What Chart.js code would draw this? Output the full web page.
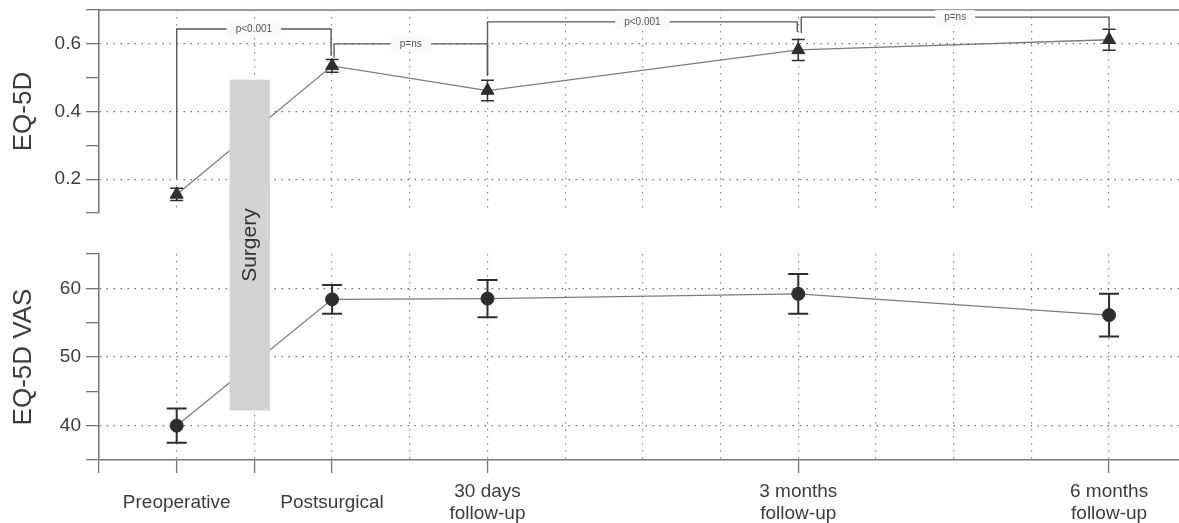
<!DOCTYPE html>
<html>
<head>
<meta charset="utf-8">
<script src="https://cdn.jsdelivr.net/npm/chart.js@4.4.1/dist/chart.umd.min.js"></script>
<style>
  html, body { margin: 0; padding: 0; background: #fff; }
  #wrap { position: relative; width: 1179px; height: 523px; overflow: hidden; }
  #top { position: absolute; left: 0; top: 0; }
  #bot { position: absolute; left: 0; top: 190px; }
</style>
</head>
<body>
<div id="wrap">
  <canvas id="top" width="1179" height="240"></canvas>
  <canvas id="bot" width="1179" height="333"></canvas>
</div>
<script>
// time points (x position on the follow-up axis) and their labels
const timePos = [0, 1, 2, 4, 6];
const timeLabels = ["Preoperative", "Postsurgical", ["30 days", "follow-up"], ["3 months", "follow-up"], ["6 months", "follow-up"]];
const gridX = [-0.5, 0, 0.5, 1, 1.5, 2, 2.5, 3, 3.5, 4, 4.5, 5, 5.5, 6];
const tickedX = [-0.5, 0, 0.5, 1, 2, 4, 6];

// EQ-5D index (mean +/- error)
const eq5dMean = [0.155, 0.535, 0.462, 0.582, 0.612];
const eq5dErr = [0.018, 0.019, 0.030, 0.031, 0.031];
const eq5dTicks = [0.2, 0.4, 0.6];
const eq5dMinor = [0.1, 0.3, 0.5, 0.7];

// EQ-5D VAS (mean +/- error)
const vasMean = [40.0, 58.4, 58.5, 59.2, 56.1];
const vasErr = [2.5, 2.1, 2.7, 2.9, 3.1];
const vasTicks = [40, 50, 60];
const vasMinor = [35, 45, 55, 65];

// p-value comparisons between time points
const pFrom = [0, 1, 2, 4];
const pTo = [1, 2, 4, 6];
const pLabels = ["p<0.001", "p=ns", "p<0.001", "p=ns"];

const FONT = '"Liberation Sans", Arial, Helvetica, sans-serif';
const TXT = '#3c3c3c';
const DOTS = [1.5, 5.5];

// bracket shapes (in EQ-5D units): top level and where each leg stops
const bracketShape = [
  { level: 0.644, left: 0.203, right: 0.565, dxL: 0, dxR: -1 },
  { level: 0.600, left: 0.559, right: 0.506, dxL: 2, dxR: 0 },
  { level: 0.665, left: 0.506, right: 0.635, dxL: 0, dxR: -1 },
  { level: 0.679, left: 0.632, right: 0.647, dxL: 3, dxR: 0 }
];

const near = (v, arr) => arr.some(a => Math.abs(a - v) < 1e-6);

const errorBars = {
  id: 'errbars',
  afterDatasetsDraw(chart, args, opts) {
    const { ctx, scales: { x, y } } = chart;
    const ds = chart.data.datasets[0];
    ctx.save();
    ctx.strokeStyle = opts.color;
    ctx.lineWidth = opts.width;
    ds.data.forEach((p, i) => {
      const px = x.getPixelForValue(p.x);
      const hi = y.getPixelForValue(p.y + ds.errors[i]);
      const lo = y.getPixelForValue(p.y - ds.errors[i]);
      ctx.beginPath();
      ctx.moveTo(px, hi); ctx.lineTo(px, lo);
      ctx.moveTo(px - opts.cap, hi); ctx.lineTo(px + opts.cap, hi);
      ctx.moveTo(px - opts.cap, lo); ctx.lineTo(px + opts.cap, lo);
      ctx.stroke();
    });
    ctx.restore();
  }
};

const surgery = {
  id: 'surgery',
  afterDatasetsDraw(chart, args, opts) {
    const { ctx, scales: { x, y } } = chart;
    const x0 = x.getPixelForValue(opts.x0);
    const x1 = x.getPixelForValue(opts.x1);
    const y0 = opts.yTop == null ? 0 : y.getPixelForValue(opts.yTop);
    const y1 = opts.yBottom == null ? chart.height : y.getPixelForValue(opts.yBottom);
    ctx.save();
    ctx.fillStyle = '#d2d3d5';
    ctx.fillRect(x0, y0, x1 - x0, y1 - y0);
    if (opts.label) {
      ctx.translate((x0 + x1) / 2, y.getPixelForValue(opts.labelAt));
      ctx.rotate(-Math.PI / 2);
      ctx.fillStyle = '#333';
      ctx.font = '21px ' + FONT;
      ctx.textAlign = 'center';
      ctx.textBaseline = 'middle';
      ctx.fillText(opts.label, 0, 0);
    }
    ctx.restore();
  }
};

const brackets = {
  id: 'brackets',
  afterDatasetsDraw(chart) {
    const { ctx, scales: { x, y } } = chart;
    ctx.save();
    ctx.font = '10px ' + FONT;
    ctx.textAlign = 'center';
    ctx.textBaseline = 'middle';
    bracketShape.forEach((b, i) => {
      const x1 = x.getPixelForValue(pFrom[i]) + b.dxL;
      const x2 = x.getPixelForValue(pTo[i]) + b.dxR;
      const yl = y.getPixelForValue(b.level);
      ctx.strokeStyle = '#5a5a5a';
      ctx.lineWidth = 1.4;
      ctx.beginPath();
      ctx.moveTo(x1, y.getPixelForValue(b.left));
      ctx.lineTo(x1, yl);
      ctx.lineTo(x2, yl);
      ctx.lineTo(x2, y.getPixelForValue(b.right));
      ctx.stroke();
      const cx = (x1 + x2) / 2;
      const w = ctx.measureText(pLabels[i]).width + 18;
      ctx.fillStyle = '#fafafa';
      ctx.fillRect(cx - w / 2, yl - 7, w, 15);
      ctx.fillStyle = '#555';
      ctx.fillText(pLabels[i], cx, yl);
    });
    ctx.restore();
  }
};

function xGridAxis(extra) {
  return Object.assign({
    type: 'linear',
    min: -0.5,
    max: 6.45,
    afterBuildTicks: s => { s.ticks = gridX.map(v => ({ value: v })); }
  }, extra);
}

function yAxis(min, max, major, minor, fmt, title) {
  return {
    min: min,
    max: max,
    afterBuildTicks: s => { s.ticks = major.concat(minor).sort((a, b) => a - b).map(v => ({ value: v })); },
    afterFit: s => { s.width = 99; s.paddingTop = 0; s.paddingBottom = 0; },
    title: { display: true, text: title, color: TXT, font: { family: FONT, size: 26 }, padding: { top: 8, bottom: 0 } },
    ticks: {
      color: TXT,
      font: { family: FONT, size: 19 },
      padding: 5,
      callback: v => (near(v, major) ? fmt(v) : '')
    },
    grid: {
      color: c => (c.tick && near(c.tick.value, major) ? '#6e6e6e' : 'rgba(0,0,0,0)'),
      lineWidth: 1.3,
      tickColor: '#777',
      tickLength: 13,
      tickWidth: 1.3
    },
    border: { display: true, color: '#777', width: 1.5, dash: DOTS }
  };
}

// top panel: EQ-5D
new Chart(document.getElementById('top'), {
  type: 'line',
  data: {
    datasets: [{
      data: timePos.map((t, i) => ({ x: t, y: eq5dMean[i] })),
      errors: eq5dErr,
      borderColor: '#7c7c7c',
      borderWidth: 1.3,
      pointStyle: 'triangle',
      pointRadius: 7.5,
      pointBackgroundColor: '#2e2e2e',
      pointBorderColor: '#2e2e2e',
      pointBorderWidth: 1
    }]
  },
  options: {
    responsive: false,
    animation: false,
    layout: { autoPadding: false, padding: { left: 0, right: 0, top: 0, bottom: 27 } },
    plugins: {
      legend: { display: false },
      tooltip: { enabled: false },
      errbars: { color: '#2e2e2e', width: 1.5, cap: 6.5 },
      surgery: { x0: 0.34, x1: 0.6, yTop: 0.494, yBottom: null, label: '' }
    },
    scales: {
      x: xGridAxis({
        afterFit: s => { s.height = 0; s.paddingLeft = 0; s.paddingRight = 0; },
        ticks: { display: false },
        grid: {
          color: c => (c.tick && c.tick.value > -0.4 ? '#8a8a8a' : 'rgba(0,0,0,0)'),
          lineWidth: 1.2,
          drawTicks: false
        },
        border: { display: false, dash: DOTS }
      }),
      xTop: {
        type: 'linear',
        position: 'top',
        min: -0.5,
        max: 6.45,
        afterFit: s => { s.height = 10; s.paddingLeft = 0; s.paddingRight = 0; },
        ticks: { display: false },
        grid: { display: false, drawTicks: false },
        border: { display: true, color: '#9a9a9a', width: 2 }
      },
      y: yAxis(0.1, 0.7, eq5dTicks, eq5dMinor, v => v.toFixed(1), 'EQ-5D')
    }
  },
  plugins: [errorBars, surgery, brackets]
});

// bottom panel: EQ-5D VAS
new Chart(document.getElementById('bot'), {
  type: 'line',
  data: {
    datasets: [{
      data: timePos.map((t, i) => ({ x: t, y: vasMean[i] })),
      errors: vasErr,
      borderColor: '#7c7c7c',
      borderWidth: 1.3,
      pointStyle: 'circle',
      pointRadius: 6.5,
      pointBackgroundColor: '#2e2e2e',
      pointBorderColor: '#2e2e2e',
      pointBorderWidth: 1
    }]
  },
  options: {
    responsive: false,
    animation: false,
    layout: { autoPadding: false, padding: { left: 0, right: 0, top: 64, bottom: 0 } },
    plugins: {
      legend: { display: false },
      tooltip: { enabled: false },
      errbars: { color: '#2e2e2e', width: 2, cap: 10 },
      surgery: { x0: 0.34, x1: 0.6, yTop: null, yBottom: 42.2, label: 'Surgery', labelAt: 66.3 }
    },
    scales: {
      x: xGridAxis({
        afterFit: s => { s.height = 63; s.paddingLeft = 0; s.paddingRight = 0; },
        ticks: {
          color: TXT,
          font: { family: FONT, size: 19, lineHeight: 1.12 },
          padding: 19,
          crossAlign: 'center',
          autoSkip: false,
          maxRotation: 0,
          callback: v => {
            const i = timePos.findIndex(t => Math.abs(t - v) < 1e-6);
            return i >= 0 ? timeLabels[i] : '';
          }
        },
        grid: {
          color: c => (c.tick && c.tick.value > -0.4 ? '#8a8a8a' : 'rgba(0,0,0,0)'),
          lineWidth: 1.2,
          tickColor: c => (c.tick && near(c.tick.value, tickedX) ? '#777' : 'rgba(0,0,0,0)'),
          tickLength: 13,
          tickWidth: 1.3
        },
        border: { display: true, color: '#777', width: 1.5, dash: DOTS }
      }),
      y: yAxis(35, 65, vasTicks, vasMinor, v => String(v), 'EQ-5D VAS')
    }
  },
  plugins: [errorBars, surgery]
});
</script>
</body>
</html>
